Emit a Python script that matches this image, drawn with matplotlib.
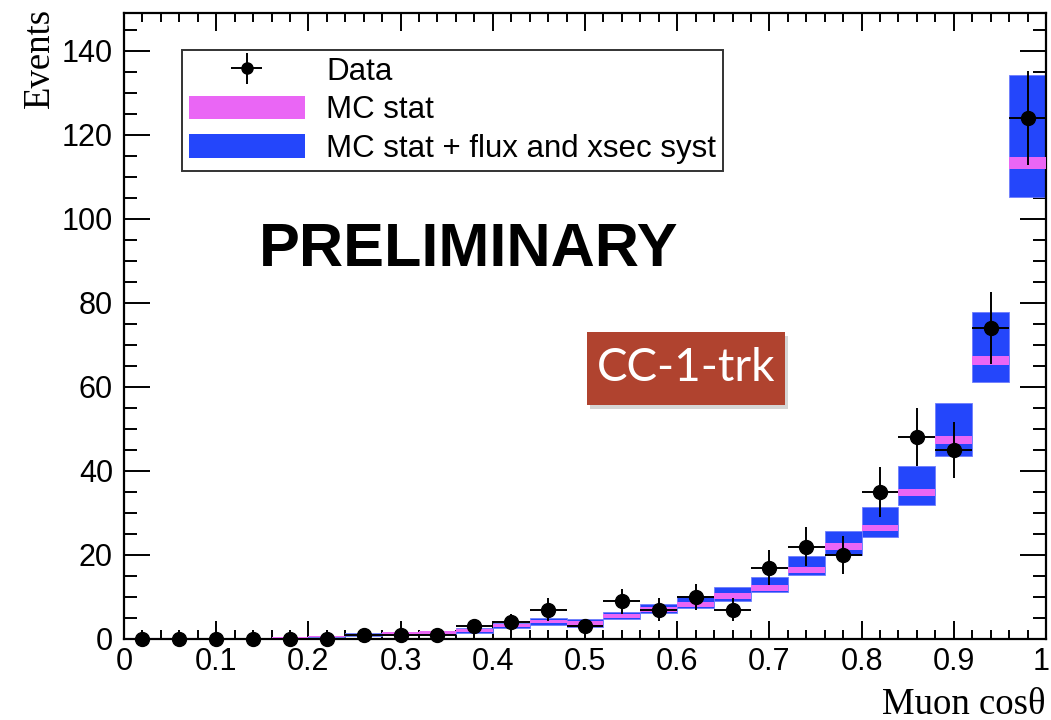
import numpy as np
import matplotlib
matplotlib.use("Agg")
import matplotlib.pyplot as plt
import matplotlib.transforms as mtransforms
from matplotlib.patches import Rectangle, Patch
from matplotlib.ticker import MultipleLocator

# Binning: 25 bins of muon cos(theta) between 0 and 1
bin_edges = np.linspace(0.0, 1.0, 26)
bin_centers = 0.5 * (bin_edges[:-1] + bin_edges[1:])
bin_width = bin_edges[1] - bin_edges[0]

# Observed event counts
data_counts = [0, 0, 0, 0, 0, 0, 1, 1, 1, 3, 4, 7, 3, 9, 7, 10, 7, 17, 22, 20,
               35, 48, 45, 74, 124]

# MC prediction (central value) and its MC-statistics half-width
mc_pred = [0.08, 0.12, 0.2, 0.25, 0.35, 0.6, 1.0, 1.3, 1.5, 2.0, 3.2, 4.1, 3.8,
           5.5, 7.1, 8.3, 10.2, 12.2, 16.5, 22.0, 26.5, 34.9, 47.4, 66.3, 113.3]
mc_stat = [0.04, 0.05, 0.08, 0.1, 0.1, 0.15, 0.2, 0.25, 0.3, 0.3, 0.35, 0.4, 0.4,
           0.5, 0.6, 0.6, 0.65, 0.7, 0.7, 0.8, 0.75, 0.85, 1.0, 1.1, 1.5]
# Envelope of MC stat + flux and cross-section systematics
mc_tot_low = [0.03, 0.05, 0.1, 0.15, 0.2, 0.4, 0.7, 1.0, 1.1, 1.4, 2.5, 3.3, 2.9,
              4.8, 6.3, 7.3, 9.1, 11.1, 15.2, 20.0, 24.2, 31.9, 43.6, 61.1, 105.3]
mc_tot_high = [0.13, 0.2, 0.3, 0.35, 0.5, 0.8, 1.4, 1.7, 2.0, 2.7, 3.9, 4.9, 4.7,
               6.5, 8.3, 10.2, 12.3, 14.7, 19.8, 25.8, 31.3, 41.2, 56.1, 77.9, 134.3]

x_ticks = [0, 0.1, 0.2, 0.3, 0.4, 0.5, 0.6, 0.7, 0.8, 0.9, 1]
x_tick_labels = ["0", "0.1", "0.2", "0.3", "0.4", "0.5", "0.6", "0.7", "0.8", "0.9", "1"]
y_ticks = [0, 20, 40, 60, 80, 100, 120, 140]

BLUE = "#2446FB"
MAGENTA = "#EA66F5"

plt.rcParams["font.family"] = ["Liberation Sans", "DejaVu Sans"]

W, H = 1051, 720
fig = plt.figure(figsize=(W / 100, H / 100), dpi=100)
ax = fig.add_axes([124 / W, 1 - 639 / H, (1046 - 124) / W, (639 - 13) / H])

mc_pred = np.asarray(mc_pred)
mc_stat = np.asarray(mc_stat)
mc_tot_low = np.asarray(mc_tot_low)
mc_tot_high = np.asarray(mc_tot_high)

# Total uncertainty boxes, then the MC-stat band on top
ax.bar(bin_centers, mc_tot_high - mc_tot_low, bottom=mc_tot_low, width=bin_width,
       color=BLUE, edgecolor="#6f7dfc", linewidth=0.6, zorder=2)
ax.bar(bin_centers, 2 * mc_stat, bottom=mc_pred - mc_stat, width=bin_width,
       color=MAGENTA, edgecolor="none", linewidth=0, zorder=3)

counts = np.asarray(data_counts, dtype=float)
data_cont = ax.errorbar(bin_centers, counts, xerr=bin_width / 2, yerr=np.sqrt(counts),
                        fmt="o", color="black", markersize=10, elinewidth=1.4,
                        capsize=0, zorder=5, clip_on=False)

ax.set_xlim(0, 1)
ax.set_ylim(0, 149)
ax.set_xticks(x_ticks)
ax.set_xticklabels(x_tick_labels)
ax.set_yticks(y_ticks)
ax.xaxis.set_minor_locator(MultipleLocator(0.02))
ax.yaxis.set_minor_locator(MultipleLocator(5))
ax.tick_params(axis="both", which="both", direction="in", top=True, right=True,
               labelsize=22, width=1.4, colors="black")
ax.tick_params(axis="x", which="major", length=13, pad=6)
ax.tick_params(axis="x", which="minor", length=6.5)
ax.tick_params(axis="y", which="major", length=19, pad=8)
ax.tick_params(axis="y", which="minor", length=9.5)
for sp in ax.spines.values():
    sp.set_linewidth(1.6)

# Keep the last x label inside the canvas
last_lab = ax.get_xticklabels()[-1]
last_lab.set_transform(last_lab.get_transform() +
                       mtransforms.ScaledTranslation(-5 / 100, 0, fig.dpi_scale_trans))

# Axis titles in a serif face, placed at the axis ends
fig.text(40 / W, 1 - 8 / H, "Events", rotation=90, ha="center", va="top",
         fontsize=26.5, family=["Liberation Serif", "DejaVu Serif"])
fig.text(1046 / W, 1 - 714 / H, "Muon cos\u03b8", ha="right", va="baseline",
         fontsize=26.5, family=["Liberation Serif", "DejaVu Serif"])

# Legend
handles = [data_cont,
           Patch(facecolor=MAGENTA, edgecolor="none"),
           Patch(facecolor=BLUE, edgecolor="none")]
labels = ["Data", "MC stat", "MC stat + flux and xsec syst"]
leg = ax.legend(handles, labels, loc="upper left",
                bbox_to_anchor=(182 / W, 1 - 50 / H), bbox_transform=fig.transFigure,
                fontsize=22.5, frameon=True, fancybox=False, framealpha=1,
                edgecolor="#333333", borderaxespad=0, handlelength=3.7,
                handleheight=0.8, labelspacing=0.27, handletextpad=0.7,
                borderpad=0.22, markerscale=0.8)
leg.get_frame().set_linewidth(1.4)
leg.set_zorder(10)

# Watermark
fig.text(469 / W, 1 - 250 / H, "PRELIMINARY", ha="center", va="center",
         fontsize=44, fontweight="bold")

# Sample tag with drop shadow
x0, y0, x1, y1 = 587, 332, 785, 405
fig.add_artist(Rectangle(((x0 + 3) / W, 1 - (y1 + 4) / H), (x1 - x0) / W, (y1 - y0) / H,
                         transform=fig.transFigure, facecolor="#888888", alpha=0.35,
                         edgecolor="none", zorder=8))
fig.add_artist(Rectangle((x0 / W, 1 - y1 / H), (x1 - x0) / W, (y1 - y0) / H,
                         transform=fig.transFigure, facecolor="#B0432F",
                         edgecolor="none", zorder=9))
fig.text((x0 + x1) / 2 / W, 1 - (y0 + y1) / 2 / H, "CC-1-trk", ha="center", va="center",
         fontsize=33, color="white", family=["Lato", "DejaVu Sans"], zorder=10)

fig.savefig("out.png", dpi=100)
